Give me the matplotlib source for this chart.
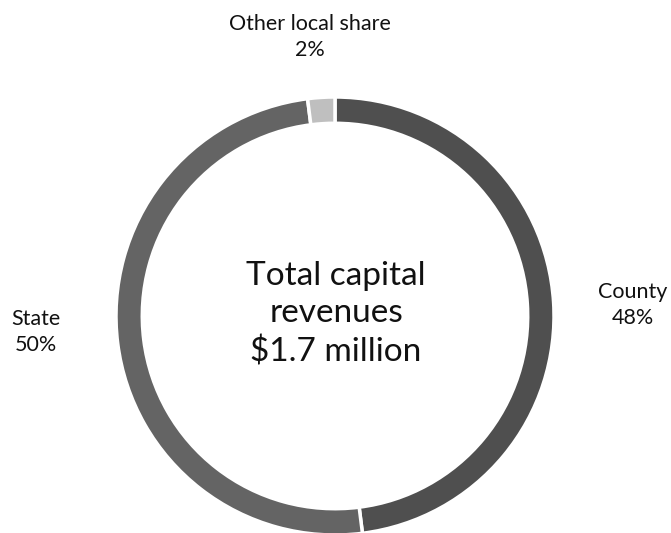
import matplotlib
matplotlib.use("Agg")
import matplotlib.pyplot as plt

categories = ["County", "State", "Other local share"]
shares = [48, 50, 2]
labels_pct = ["48%", "50%", "2%"]
colors = ["#4f4f4f", "#646464", "#bfbfbf"]

W, H = 671, 533
fig = plt.figure(figsize=(W / 100, H / 100), dpi=100)
plt.rcParams['font.family'] = ['Lato', 'DejaVu Sans']

cx, cy, R = 335, 316, 219
ax = fig.add_axes([(cx - R) / W, (H - cy - R) / H, 2 * R / W, 2 * R / H])
ax.pie(shares, colors=colors, startangle=90, counterclock=False,
       radius=1.0, wedgeprops=dict(width=0.12, edgecolor="white", linewidth=2.5))
ax.set_xlim(-1, 1)
ax.set_ylim(-1, 1)
ax.set_aspect("equal")
ax.axis("off")

def fx(x):
    return x / W

def fy(y):
    return 1 - y / H

fs = 15.5
fig.text(fx(310), fy(37), f"{categories[2]}\n{labels_pct[2]}", ha="center", va="center",
         fontsize=fs, color="#111111", linespacing=1.4)
fig.text(fx(633), fy(305), f"{categories[0]}\n{labels_pct[0]}", ha="center", va="center",
         fontsize=fs, color="#111111", linespacing=1.4)
fig.text(fx(36), fy(332), f"{categories[1]}\n{labels_pct[1]}", ha="center", va="center",
         fontsize=fs, color="#111111", linespacing=1.4)
fig.text(fx(336), fy(314), "Total capital\nrevenues\n$1.7 million", ha="center", va="center",
         fontsize=24, color="#111111", linespacing=1.32)

fig.savefig("out.png", dpi=100)
